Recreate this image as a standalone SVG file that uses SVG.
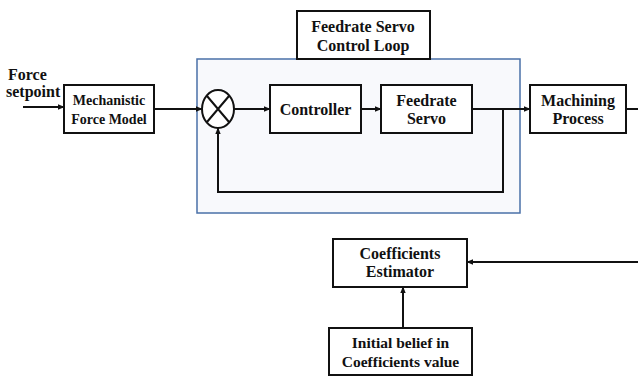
<svg xmlns="http://www.w3.org/2000/svg" width="638" height="376" viewBox="0 0 638 376">
<style>
text{font-family:"Liberation Serif","Times New Roman",serif;font-weight:bold;font-size:16px;fill:#111;text-anchor:middle}
.box{fill:#fff;stroke:#111;stroke-width:2}
.ln{fill:none;stroke:#111;stroke-width:2}
</style>
<defs>
<marker id="ah" viewBox="0 0 10 10" refX="9" refY="5" markerWidth="7" markerHeight="7" orient="auto" markerUnits="userSpaceOnUse">
<path d="M0,1 L10,5 L0,9 z" fill="#111"/>
</marker>
</defs>
<rect width="638" height="376" fill="#fff"/>
<g id="loop">
<rect x="197" y="59" width="323" height="154" fill="#f8f9fc" stroke="#4a70a8" stroke-width="1.5"/>
</g>
<g id="loop-label">
<rect class="box" x="297" y="11" width="133" height="48"/>
<text x="363" y="32">Feedrate Servo</text>
<text x="363" y="51">Control Loop</text>
</g>
<g id="setpoint">
<text x="8" y="80" style="text-anchor:start">Force</text>
<text x="6" y="97" style="text-anchor:start">setpoint</text>
</g>
<g id="mechanistic">
<rect class="box" x="64" y="85" width="90" height="48"/>
<text x="109" y="105" style="font-size:14px">Mechanistic</text>
<text x="109" y="124" style="font-size:14px">Force Model</text>
</g>
<g id="sum">
<ellipse cx="218" cy="109" rx="16" ry="19" fill="#fff" stroke="#111" stroke-width="2"/>
<path class="ln" d="M207,96 L229,122 M229,96 L207,122"/>
</g>
<g id="controller">
<rect class="box" x="270" y="85" width="91" height="48"/>
<text x="315.5" y="115">Controller</text>
</g>
<g id="servo">
<rect class="box" x="381" y="85" width="91" height="48"/>
<text x="426.5" y="106">Feedrate</text>
<text x="426.5" y="124">Servo</text>
</g>
<g id="machining">
<rect class="box" x="530" y="85" width="96" height="48"/>
<text x="578" y="106">Machining</text>
<text x="578" y="124">Process</text>
</g>
<g id="estimator">
<rect class="box" x="333" y="239" width="134" height="48"/>
<text x="400" y="259">Coefficients</text>
<text x="400" y="277">Estimator</text>
</g>
<g id="belief">
<rect class="box" x="329" y="328" width="143" height="47"/>
<text x="400.5" y="348" style="font-size:15.5px">Initial belief in</text>
<text x="400.5" y="367" style="font-size:15.5px">Coefficients value</text>
</g>
<g id="connectors">
<path class="ln" d="M23,107 L64,107" marker-end="url(#ah)"/>
<path class="ln" d="M154,109 L202,109" marker-end="url(#ah)"/>
<path class="ln" d="M234,109 L270,109" marker-end="url(#ah)"/>
<path class="ln" d="M361,109 L381,109" marker-end="url(#ah)"/>
<path class="ln" d="M472,109 L530,109" marker-end="url(#ah)"/>
<path class="ln" d="M503,109 L503,192 L218,192 L218,128" marker-end="url(#ah)"/>
<path class="ln" d="M626,109 L638,109"/>
<path class="ln" d="M638,262 L467,262" marker-end="url(#ah)"/>
<path class="ln" d="M403,328 L403,287" marker-end="url(#ah)"/>
</g>
</svg>
